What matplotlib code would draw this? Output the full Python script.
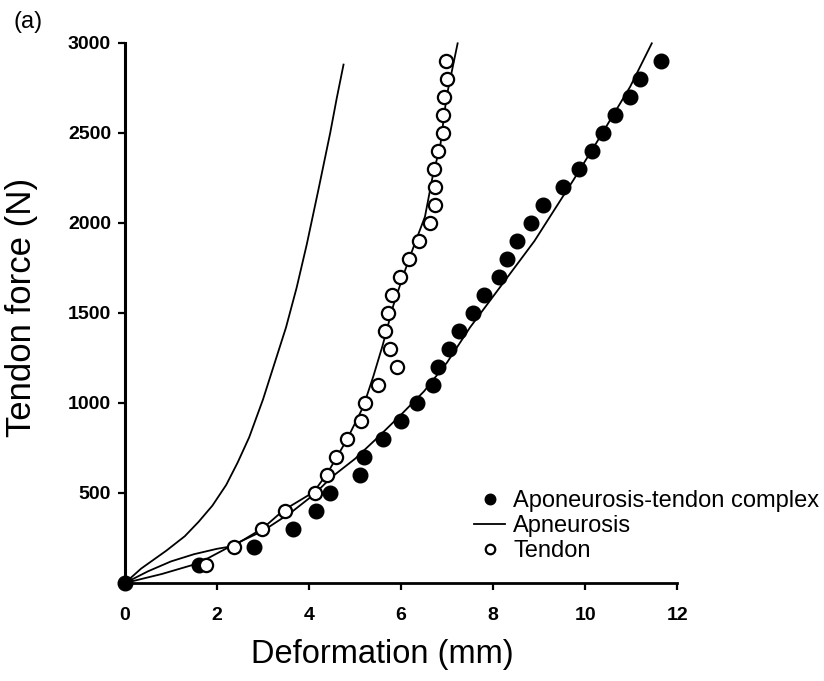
import matplotlib
matplotlib.use("Agg")
import matplotlib.pyplot as plt

plt.rcParams['font.family'] = ['Liberation Sans', 'DejaVu Sans']

# measured points: aponeurosis-tendon complex (filled)
atc_x = [0, 1.6, 2.8, 3.65, 4.15, 4.45, 5.1, 5.2, 5.6, 6.0, 6.35, 6.7, 6.8, 7.05, 7.27,
         7.57, 7.8, 8.12, 8.31, 8.51, 8.82, 9.09, 9.53, 9.86, 10.14, 10.4, 10.65, 10.98, 11.2, 11.65]
atc_f = [0, 100, 200, 300, 400, 500, 600, 700, 800, 900, 1000, 1100, 1200, 1300, 1400,
         1500, 1600, 1700, 1800, 1900, 2000, 2100, 2200, 2300, 2400, 2500, 2600, 2700, 2800, 2900]

# measured points: tendon (open)
ten_x = [1.75, 2.37, 2.98, 3.47, 4.12, 4.38, 4.58, 4.83, 5.14, 5.22, 5.51, 5.91, 5.76, 5.66,
         5.71, 5.8, 5.98, 6.18, 6.38, 6.63, 6.74, 6.74, 6.72, 6.81, 6.91, 6.92, 6.93, 6.99, 6.98]
ten_f = [100, 200, 300, 400, 500, 600, 700, 800, 900, 1000, 1100, 1200, 1300, 1400,
         1500, 1600, 1700, 1800, 1900, 2000, 2100, 2200, 2300, 2400, 2500, 2600, 2700, 2800, 2900]

# fitted curves
apo_fit_x = [0, 0.35, 0.9, 1.3, 1.6, 1.9, 2.2, 2.45, 2.7, 3.0, 3.3, 3.5, 3.73, 3.95,
             4.2, 4.46, 4.6, 4.75]
apo_fit_f = [0, 80, 180, 260, 340, 430, 545, 670, 810, 1020, 1260, 1420, 1640, 1880,
             2180, 2500, 2690, 2880]

ten_fit_x = [0, 0.5, 1.0, 1.5, 2.0, 2.35, 3.0, 3.45, 4.1, 4.4, 4.82, 5.18, 5.4, 5.6, 5.83,
             6.05, 6.3, 6.52, 6.7, 6.85, 6.99, 7.23]
ten_fit_f = [0, 65, 120, 160, 190, 205, 305, 405, 505, 610, 795, 980, 1150, 1320, 1540,
             1710, 1887, 2035, 2276, 2424, 2702, 2998]

atc_fit_x = [0, 0.8, 1.6, 2.3, 3.0, 3.6, 4.1, 4.5, 5.0, 5.5, 6.0, 6.5, 7.0, 7.5, 8.2, 8.9,
             9.75, 10.33, 10.98, 11.45]
atc_fit_f = [0, 50, 110, 205, 290, 390, 490, 590, 690, 810, 935, 1065, 1225, 1420, 1660, 1900,
             2240, 2480, 2757, 2998]

x_ticks = [0, 2, 4, 6, 8, 10, 12]
y_ticks = [500, 1000, 1500, 2000, 2500, 3000]

fig = plt.figure(figsize=(8.24, 6.81), dpi=100)
ax = fig.add_axes([0.1517, 0.1439, 0.67, 0.793])

ax.plot(apo_fit_x, apo_fit_f, color='black', lw=1.3, label='Apneurosis', clip_on=False)
ax.plot(ten_fit_x, ten_fit_f, color='black', lw=1.3, clip_on=False)
ax.plot(atc_fit_x, atc_fit_f, color='black', lw=1.3, clip_on=False)

ax.plot(atc_x, atc_f, 'o', color='black', ms=10.5, label='Aponeurosis-tendon complex',
        clip_on=False, zorder=3)
ax.plot(ten_x, ten_f, 'o', mfc='white', mec='black', mew=1.6, ms=9.5, label='Tendon',
        clip_on=False, zorder=3)

ax.set_xlim(0, 12)
ax.set_ylim(0, 3000)
ax.set_xticks(x_ticks)
ax.set_yticks(y_ticks)
ax.spines['top'].set_visible(False)
ax.spines['right'].set_visible(False)
ax.spines['left'].set_linewidth(2.2)
ax.spines['bottom'].set_linewidth(2.0)
ax.tick_params(direction='out', length=5, width=1.6, labelsize=14)
ax.tick_params(axis='x', pad=12)
ax.tick_params(axis='y', pad=5)
for lab in ax.get_xticklabels() + ax.get_yticklabels():
    lab.set_fontweight('bold')

ax.set_xlabel('Deformation (mm)', fontsize=23.5)
ax.xaxis.set_label_coords(0.466, -0.104)
ax.set_ylabel('Tendon force (N)', fontsize=25)
ax.yaxis.set_label_coords(-0.157, 0.51)

handles, labels = ax.get_legend_handles_labels()
order = [1, 0, 2]
ax.legend([handles[i] for i in order], [labels[i] for i in order],
          loc='upper left', bbox_to_anchor=(0.633, 0.172), frameon=False,
          fontsize=17, handlelength=1.3, handletextpad=0.35, labelspacing=0.12,
          markerscale=0.72, borderpad=0, borderaxespad=0)

fig.text(0.016, 0.968, '(a)', fontsize=17, va='center', ha='left')

fig.savefig('out.png', dpi=100)
